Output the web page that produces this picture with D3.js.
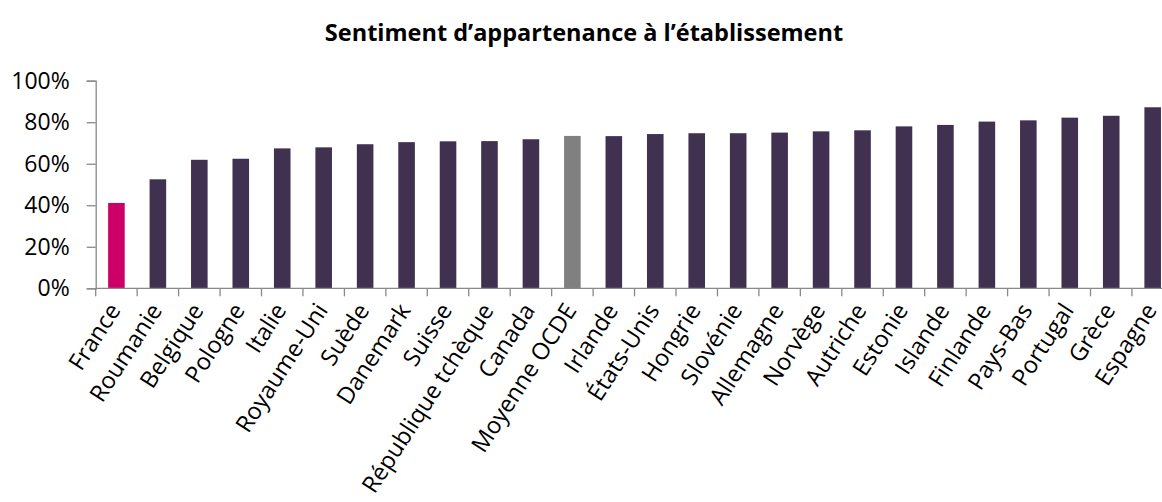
<!DOCTYPE html>
<html>
<head>
<meta charset="utf-8">
<script src="https://cdn.jsdelivr.net/npm/d3@7"></script>
<style>
  body { margin: 0; background: #fff; }
  svg { display: block; font-family: "Open Sans", sans-serif; }
</style>
</head>
<body>
<svg width="1162" height="502"></svg>
<script>
const title = "Sentiment d\u2019appartenance \u00e0 l\u2019\u00e9tablissement";

const countries = [
    "France", "Roumanie", "Belgique", "Pologne", "Italie", "Royaume-Uni",
    "Suède", "Danemark", "Suisse", "République tchèque", "Canada",
    "Moyenne OCDE", "Irlande", "États-Unis", "Hongrie", "Slovénie",
    "Allemagne", "Norvège", "Autriche", "Estonie", "Islande", "Finlande",
    "Pays-Bas", "Portugal", "Grèce", "Espagne"
];

const values = [
    0.411, 0.525, 0.619, 0.624, 0.674, 0.679, 0.694, 0.704, 0.708, 0.709,
    0.718, 0.734, 0.733, 0.743, 0.747, 0.747, 0.750, 0.756, 0.761, 0.780,
    0.787, 0.803, 0.809, 0.822, 0.831, 0.872
];

const yTicks = [0, 0.2, 0.4, 0.6, 0.8, 1];

document.addEventListener("DOMContentLoaded", function() {

    const svg = d3.select("svg");

    const left = 95.7, bottom = 288.3, top = 80.7;
    const step = 41.45;

    const x = d3.scaleBand()
        .domain(countries)
        .range([left, left + step * countries.length])
        .paddingInner(0.6)
        .paddingOuter(0.3);

    const y = d3.scaleLinear()
        .domain([0, 1])
        .range([bottom, top]);

    const colour = d => d === "France" ? "#cc0066" : d === "Moyenne OCDE" ? "#808080" : "#403151";

    // title
    svg.append("text")
        .attr("x", 584)
        .attr("y", 41)
        .attr("text-anchor", "middle")
        .attr("font-weight", "bold")
        .attr("font-size", 23.5)
        .attr("fill", "#000")
        .text(title);

    // bars
    svg.selectAll("rect.bar")
        .data(countries)
        .enter()
        .append("rect")
        .attr("class", "bar")
        .attr("x", d => x(d))
        .attr("width", x.bandwidth())
        .attr("y", (d, i) => y(values[i]))
        .attr("height", (d, i) => bottom - y(values[i]))
        .attr("fill", colour);

    // y axis
    const yAxis = svg.append("g")
        .attr("transform", `translate(${left},0)`)
        .call(d3.axisLeft(y).tickValues(yTicks).tickFormat(d3.format(".0%")).tickSize(9).tickPadding(17));
    yAxis.select(".domain").attr("stroke", "#898989").attr("stroke-width", 1.3);
    yAxis.selectAll(".tick line").attr("stroke", "#898989").attr("stroke-width", 1.3);
    yAxis.selectAll(".tick text")
        .attr("font-size", 23)
        .attr("font-family", "Open Sans, sans-serif")
        .attr("fill", "#000");

    // x axis: line and ticks at the category boundaries
    const xg = svg.append("g");
    const [x0, x1] = x.range();
    xg.append("line")
        .attr("x1", x0).attr("x2", x1)
        .attr("y1", bottom).attr("y2", bottom)
        .attr("stroke", "#898989").attr("stroke-width", 1.3);
    xg.selectAll("line.tk")
        .data(d3.range(countries.length + 1))
        .enter()
        .append("line")
        .attr("class", "tk")
        .attr("x1", i => x0 + i * x.step())
        .attr("x2", i => x0 + i * x.step())
        .attr("y1", bottom)
        .attr("y2", bottom + 8)
        .attr("stroke", "#898989").attr("stroke-width", 1.3);

    xg.selectAll("text")
        .data(countries)
        .enter()
        .append("text")
        .attr("transform", d => `translate(${x(d) + x.bandwidth() / 2 + 5},${bottom + 22}) rotate(-57)`)
        .attr("text-anchor", "end")
        .attr("font-size", 23.5)
        .attr("fill", "#000")
        .text(d => d);
});
</script>
</body>
</html>
